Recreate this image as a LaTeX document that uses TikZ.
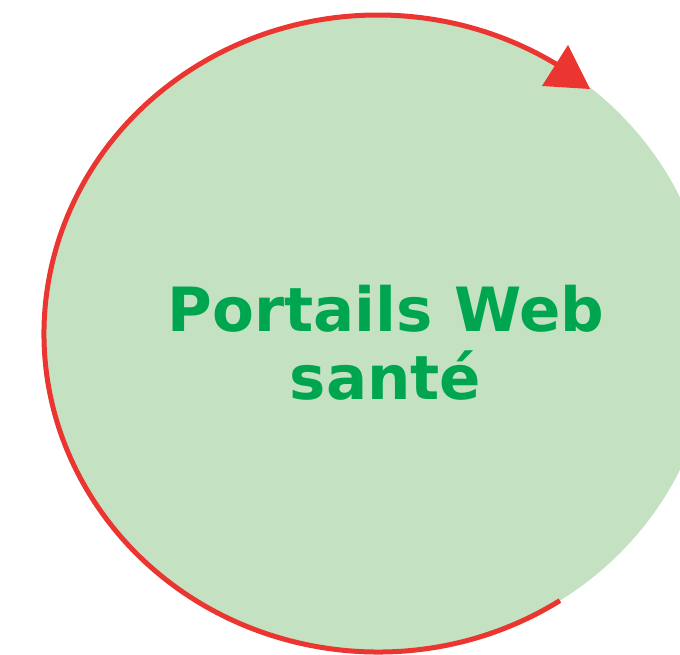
\documentclass[tikz,border=0pt]{standalone}
\usepackage{fontspec}
\newfontfamily\portalfont{DejaVu Sans}
\definecolor{disc}{HTML}{C4E2C2}
\definecolor{cycle}{HTML}{EA3530}
\definecolor{label}{HTML}{00A64F}
\tikzset{
  portal/.style={font=\portalfont\bfseries\fontsize{61}{68}\selectfont, text=label, align=center, inner sep=0pt},
  loopline/.style={draw=cycle, line width=5pt}
}
\begin{document}
\begin{tikzpicture}[x=1pt,y=1pt]
                \useasboundingbox (0,0) rectangle (680,655);
                \coordinate (c) at (378,321.5);
                \fill [disc] (c) ellipse [x radius=334pt, y radius=318.5pt];
                \draw [loopline] (c) ++(-57:334pt and 318.5pt) coordinate (s)
                    arc [start angle=-57, end angle=-302.5, x radius=334pt, y radius=318.5pt] coordinate (e);
                \fill [cycle] (568,610) -- (542,569) -- (590,566) -- cycle;
                \node [portal, anchor=base] (t1) at (386,323) {Portails Web};
                \node [portal, anchor=base] (t2) at (385.5,255) {santé};
            \end{tikzpicture}
\end{document}
